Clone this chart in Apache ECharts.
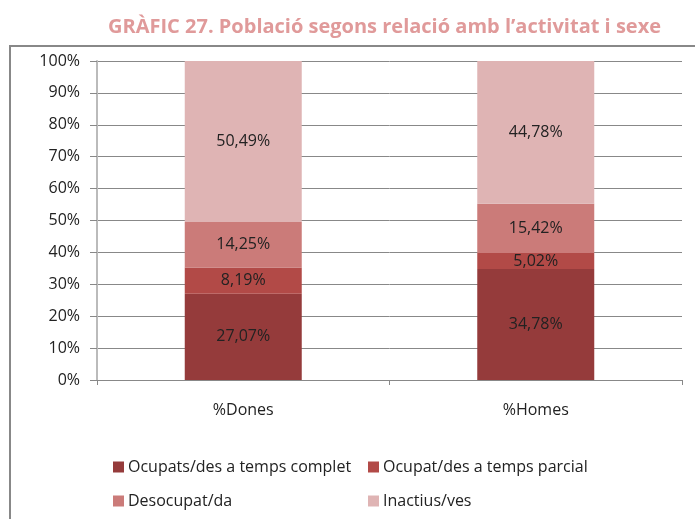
<!DOCTYPE html>
<html>
<head>
<meta charset="utf-8">
<script src="https://cdn.jsdelivr.net/npm/echarts@6/dist/echarts.min.js"></script>
<style>
  html, body { margin: 0; padding: 0; background: #fff; }
  #chart { width: 695px; height: 519px; }
</style>
</head>
<body>
<div id="chart"></div>
<script>
var categories = ['%Dones', '%Homes'];
var serieNames = ['Ocupats/des a temps complet', 'Ocupat/des a temps parcial', 'Desocupat/da', 'Inactius/ves'];
var ocupatsComplet = [27.07, 34.78];
var ocupatsParcial = [8.19, 5.02];
var desocupats = [14.25, 15.42];
var inactius = [50.49, 44.78];
var colors = ['#953b3b', '#b24a47', '#cb7b79', '#dfb4b4'];

var valors = [ocupatsComplet, ocupatsParcial, desocupats, inactius];
var fontFam = '"Open Sans", "Noto Sans", sans-serif';

var chart = echarts.init(document.getElementById('chart'));

var series = serieNames.map(function (nom, i) {
    return {
        name: nom,
        type: 'bar',
        stack: 'total',
        barWidth: '40%',
        data: valors[i],
        itemStyle: { color: colors[i] },
        label: {
            show: true,
            position: 'inside',
            color: '#222',
            fontSize: 16,
            fontFamily: fontFam,
            formatter: function (p) {
                return p.value.toFixed(2).replace('.', ',') + '%';
            }
        }
    };
});

var legendText = { color: '#222', fontSize: 16, fontFamily: fontFam, padding: [0, 0, 0, -1] };

var option = {
    animation: false,
    title: {
        text: 'GRÀFIC 27. Població segons relació amb l\u2019activitat i sexe',
        left: 103,
        top: 12,
        textStyle: {
            color: '#e09a9a',
            fontSize: 20,
            fontWeight: 'bold',
            fontFamily: fontFam
        }
    },
    graphic: [{
        type: 'rect',
        shape: { x: 10, y: 46, width: 700, height: 500 },
        style: { fill: 'none', stroke: '#888', lineWidth: 2 },
        silent: true,
        z: -1
    }],
    legend: [{
        orient: 'vertical',
        left: 108,
        top: 454,
        itemWidth: 11,
        itemHeight: 11,
        itemGap: 18,
        icon: 'rect',
        data: [serieNames[0], serieNames[2]],
        textStyle: legendText
    }, {
        orient: 'vertical',
        left: 363,
        top: 454,
        itemWidth: 11,
        itemHeight: 11,
        itemGap: 18,
        icon: 'rect',
        data: [serieNames[1], serieNames[3]],
        textStyle: legendText
    }],
    grid: { left: 97, right: 13, top: 61, bottom: 139 },
    xAxis: {
        type: 'category',
        data: categories,
        axisLine: { lineStyle: { color: '#888', width: 1 } },
        axisTick: { show: true, length: 5, lineStyle: { color: '#888' } },
        axisLabel: { color: '#222', fontSize: 16, fontFamily: fontFam, margin: 22 }
    },
    yAxis: {
        type: 'value',
        min: 0,
        max: 100,
        interval: 10,
        axisLine: { show: true, lineStyle: { color: '#bbb', width: 2 } },
        axisTick: { show: true, length: 7, lineStyle: { color: '#888' } },
        splitLine: { lineStyle: { color: '#888', width: 1 } },
        axisLabel: {
            color: '#222',
            fontSize: 16,
            fontFamily: fontFam,
            margin: 17,
            formatter: '{value}%'
        }
    },
    series: series
};

chart.setOption(option);
</script>
</body>
</html>
